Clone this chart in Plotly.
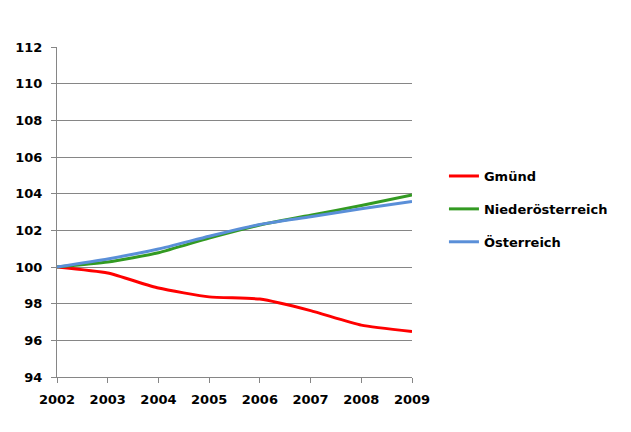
import plotly.graph_objects as go

years = [2002, 2003, 2004, 2005, 2006, 2007, 2008, 2009]
gmuend = [100.0, 99.67, 98.85, 98.37, 98.25, 97.62, 96.83, 96.48]
noe = [100.0, 100.27, 100.78, 101.58, 102.29, 102.83, 103.35, 103.93]
oe = [100.0, 100.44, 100.98, 101.68, 102.32, 102.74, 103.18, 103.58]

series = [("Gmünd", gmuend, "#FF0000"),
          ("Niederösterreich", noe, "#339A22"),
          ("Österreich", oe, "#5A8FD8")]

font = dict(family="DejaVu Sans, Verdana, sans-serif", size=13, color="black", weight="bold")
grid = "#868686"

fig = go.Figure()
for i, (name, vals, col) in enumerate(series):
    fig.add_trace(go.Scatter(x=years, y=vals, name=name, mode="lines",
                             line=dict(color=col, width=3, shape="spline", smoothing=0.5),
                             legendgroup=str(i)))

fig.update_layout(
    width=623, height=424,
    margin=dict(l=49, r=219, t=39, b=55),
    paper_bgcolor="white", plot_bgcolor="white",
    font=font,
    showlegend=True,
    legend=dict(x=1.09, y=0.509, xanchor="left", yanchor="middle",
                font=font,
                itemwidth=30, tracegroupgap=13, bgcolor="rgba(0,0,0,0)"),
    xaxis=dict(range=[2002, 2009], tickmode="array", tickvals=years,
               ticktext=[str(y) for y in years], showgrid=False,
               showline=True, linecolor=grid, linewidth=1,
               ticks="outside", ticklen=5, tickcolor=grid,
               ticklabelstandoff=5, zeroline=False, automargin=False),
    yaxis=dict(range=[94, 112], dtick=2, tick0=94, showgrid=True, gridcolor=grid,
               gridwidth=1, showline=True, linecolor=grid, linewidth=1,
               ticks="outside", ticklen=5, tickcolor=grid,
               ticklabelstandoff=6, zeroline=False, automargin=False),
)

fig.write_html("out.html")
